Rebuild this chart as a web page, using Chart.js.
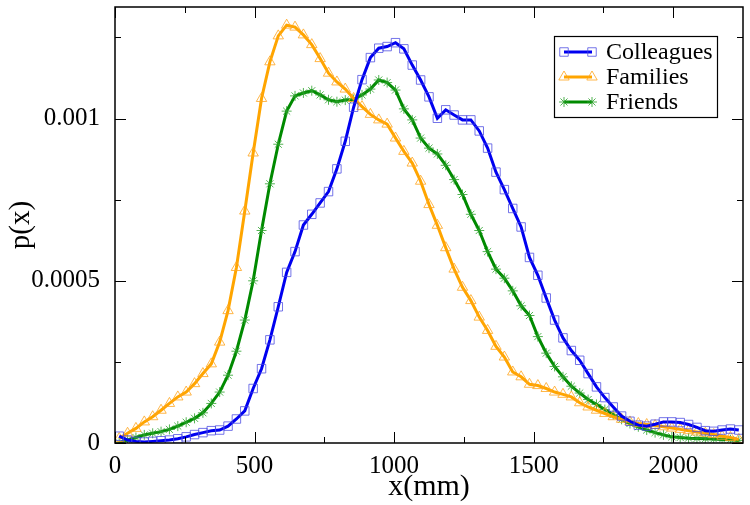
<!DOCTYPE html>
<html>
<head>
<meta charset="utf-8">
<script src="https://cdn.jsdelivr.net/npm/chart.js@4.4.1/dist/chart.umd.min.js"></script>
<style>
  html, body { margin: 0; padding: 0; background: #fff; }
</style>
</head>
<body>
<canvas id="chart" width="750" height="505"></canvas>
<script>
// bin centres (mm)
const xValues = [
  15, 45, 75, 105, 135, 165, 195, 225, 255, 285,
  315, 345, 375, 405, 435, 465, 495, 525, 555, 585,
  615, 645, 675, 705, 735, 765, 795, 825, 855, 885,
  915, 945, 975, 1005, 1035, 1065, 1095, 1125, 1155, 1185,
  1215, 1245, 1275, 1305, 1335, 1365, 1395, 1425, 1455, 1485,
  1515, 1545, 1575, 1605, 1635, 1665, 1695, 1725, 1755, 1785,
  1815, 1845, 1875, 1905, 1935, 1965, 1995, 2025, 2055, 2085,
  2115, 2145, 2175, 2205, 2235
]

const colleagues = [
  0.000021, 0.000009, 0.000005, 0.000003, 0.000005, 0.000007, 0.000009, 0.000013, 0.000019, 0.000026,
  0.000032, 0.000038, 0.000040, 0.000052, 0.000074, 0.000099, 0.000168, 0.000229, 0.000318, 0.000420,
  0.000526, 0.000590, 0.000672, 0.000705, 0.000740, 0.000775, 0.000845, 0.000930, 0.001035, 0.001120,
  0.001188, 0.001217, 0.001222, 0.001234, 0.001215, 0.001165, 0.001119, 0.001067, 0.001001, 0.001027,
  0.001011, 0.000996, 0.000996, 0.000962, 0.000909, 0.000835, 0.000781, 0.000723, 0.000666, 0.000572,
  0.000517, 0.000447, 0.000379, 0.000324, 0.000285, 0.000255, 0.000214, 0.000173, 0.000140, 0.000111,
  0.000083, 0.000067, 0.000055, 0.000052, 0.000058, 0.000065, 0.000065, 0.000063, 0.000057, 0.000048,
  0.000038, 0.000036, 0.000040, 0.000043, 0.000040
]

const families = [
  0.000014, 0.000030, 0.000045, 0.000065, 0.000081, 0.000101, 0.000122, 0.000142, 0.000157, 0.000183,
  0.000214, 0.000244, 0.000311, 0.000408, 0.000541, 0.000715, 0.000894, 0.001062, 0.001175, 0.001255,
  0.001288, 0.001282, 0.001258, 0.001228, 0.001185, 0.001140, 0.001113, 0.001091, 0.001062, 0.001037,
  0.001013, 0.000996, 0.000983, 0.000940, 0.000899, 0.000863, 0.000807, 0.000735, 0.000671, 0.000602,
  0.000536, 0.000480, 0.000439, 0.000388, 0.000347, 0.000298, 0.000265, 0.000219, 0.000204, 0.000181,
  0.000177, 0.000168, 0.000157, 0.000150, 0.000142, 0.000124, 0.000111, 0.000101, 0.000091, 0.000081,
  0.000073, 0.000065, 0.000060, 0.000057, 0.000054, 0.000050, 0.000046, 0.000042, 0.000038, 0.000034,
  0.000030, 0.000026, 0.000021, 0.000017, 0.000011
]

const friends = [
  0.000001, 0.000009, 0.000017, 0.000025, 0.000030, 0.000035, 0.000042, 0.000052, 0.000064, 0.000076,
  0.000093, 0.000122, 0.000157, 0.000209, 0.000283, 0.000379, 0.000500, 0.000655, 0.000799, 0.000921,
  0.001023, 0.001070, 0.001079, 0.001086, 0.001073, 0.001058, 0.001052, 0.001057, 0.001059, 0.001073,
  0.001091, 0.001119, 0.001111, 0.001088, 0.001030, 0.000996, 0.000940, 0.000909, 0.000891, 0.000856,
  0.000812, 0.000766, 0.000705, 0.000655, 0.000590, 0.000536, 0.000508, 0.000469, 0.000423, 0.000393,
  0.000328, 0.000277, 0.000236, 0.000204, 0.000175, 0.000154, 0.000134, 0.000119, 0.000103, 0.000088,
  0.000073, 0.000060, 0.000050, 0.000040, 0.000032, 0.000025, 0.000019, 0.000017, 0.000015, 0.000014,
  0.000013, 0.000012, 0.000011, 0.000010, 0.000008
]

const seriesNames = ["Colleagues", "Families", "Friends"]

const xMajorTicks = [0, 500, 1000, 1500, 2000]
const xMinorTicks = [250, 750, 1250, 1750]
const yMajorTicks = [0, 0.0005, 0.001]
const yMinorTicks = [0.00025, 0.00075, 0.00125]
const yTickLabels = ["0", "0.0005", "0.001"]

const serif = "'Liberation Serif', 'DejaVu Serif', serif"

function toPoints(ys) {
  return xValues.map((x, i) => ({x: x, y: ys[i]}))
}

// xmgrace style: ticks pointing inward on all four sides
const innerTicks = {
  id: "innerTicks",
  afterDatasetsDraw(chart) {
    const {ctx, chartArea: a} = chart
    const sx = chart.scales.x, sy = chart.scales.y
    ctx.save()
    ctx.strokeStyle = "#000"
    ctx.lineWidth = 1
    ctx.beginPath()
    const vTick = (v, len) => {
      const px = Math.round(sx.getPixelForValue(v)) + 0.5
      ctx.moveTo(px, a.bottom); ctx.lineTo(px, a.bottom - len)
      ctx.moveTo(px, a.top); ctx.lineTo(px, a.top + len)
    }
    const hTick = (v, len) => {
      const py = Math.round(sy.getPixelForValue(v)) + 0.5
      ctx.moveTo(a.left, py); ctx.lineTo(a.left + len, py)
      ctx.moveTo(a.right, py); ctx.lineTo(a.right - len, py)
    }
    xMajorTicks.forEach(v => vTick(v, 11))
    xMinorTicks.forEach(v => vTick(v, 6))
    yMajorTicks.forEach(v => hTick(v, 11))
    yMinorTicks.forEach(v => hTick(v, 6))
    ctx.stroke()
    ctx.lineWidth = 1.5
    ctx.strokeRect(a.left, a.top, a.right - a.left, a.bottom - a.top)
    ctx.restore()
  }
}

// boxed legend with marker-line-marker samples
const boxLegend = {
  id: "boxLegend",
  afterDraw(chart) {
    const ctx = chart.ctx
    const a = chart.chartArea
    const bx = a.right - 189, by = a.top + 29, bw = 163, bh = 81
    ctx.save()
    ctx.fillStyle = "#fff"
    ctx.fillRect(bx, by, bw, bh)
    ctx.strokeStyle = "#000"
    ctx.lineWidth = 1.2
    ctx.strokeRect(bx + 0.5, by + 0.5, bw, bh)
    chart.data.datasets.forEach((ds, i) => {
      const cy = by + 16 + i * 25
      const x1 = bx + 10, x2 = bx + 38
      ctx.strokeStyle = ds.borderColor
      ctx.lineWidth = 3
      ctx.beginPath()
      ctx.moveTo(x1, cy); ctx.lineTo(x2, cy)
      ctx.stroke()
      const opts = {pointStyle: ds.pointStyle, radius: ds.pointRadius, rotation: 0, borderWidth: 1}
      ctx.strokeStyle = ds.pointBorderColor
      ctx.fillStyle = "rgba(0,0,0,0)"
      ctx.lineWidth = 1
      Chart.helpers.drawPoint(ctx, opts, x1, cy)
      Chart.helpers.drawPoint(ctx, opts, x2, cy)
      ctx.fillStyle = "#000"
      ctx.font = "24px " + serif
      ctx.textBaseline = "middle"
      ctx.textAlign = "left"
      ctx.fillText(ds.label, bx + 52, cy + 1)
    })
    ctx.restore()
  }
}

const chart = new Chart("chart", {
  type: "line",
  data: {
    datasets: [
      {
        label: seriesNames[0],
        data: toPoints(colleagues),
        borderColor: "#0000f0",
        borderWidth: 3,
        pointStyle: "rect",
        pointRadius: 6,
        pointBorderWidth: 1,
        pointBorderColor: "rgba(70,70,225,0.75)",
        pointBackgroundColor: "rgba(0,0,0,0)",
      },
      {
        label: seriesNames[1],
        data: toPoints(families),
        borderColor: "#ffa500",
        borderWidth: 3,
        pointStyle: "triangle",
        pointRadius: 6,
        pointBorderWidth: 1,
        pointBorderColor: "rgba(255,165,30,0.8)",
        pointBackgroundColor: "rgba(0,0,0,0)",
      },
      {
        label: seriesNames[2],
        data: toPoints(friends),
        borderColor: "#008a00",
        borderWidth: 3,
        pointStyle: "star",
        pointRadius: 5,
        pointBorderWidth: 1,
        pointBorderColor: "rgba(40,160,40,0.8)",
        pointBackgroundColor: "rgba(0,0,0,0)",
      },
    ]
  },
  options: {
    responsive: false,
    animation: false,
    devicePixelRatio: 1,
    layout: {padding: {top: 5, right: 5, left: 0, bottom: 0}},
    plugins: {
      legend: {display: false},
      tooltip: {enabled: false},
    },
    elements: {
      line: {tension: 0},
    },
    scales: {
      x: {
        type: "linear",
        min: 0,
        max: 2250,
        grid: {display: false},
        border: {display: false},
        afterBuildTicks: s => { s.ticks = xMajorTicks.map(v => ({value: v})) },
        afterFit: s => { s.height = 62; s.paddingLeft = 0; s.paddingRight = 0 },
        ticks: {
          color: "#000",
          font: {family: serif, size: 25},
          padding: 0,
          maxRotation: 0,
          autoSkip: false,
          callback: v => String(v),
        },
        title: {
          display: true,
          text: "x(mm)",
          color: "#000",
          font: {family: serif, size: 30},
          padding: {top: 0, bottom: 0},
        },
      },
      y: {
        type: "linear",
        min: 0,
        max: 0.001344,
        grid: {display: false},
        border: {display: false},
        afterBuildTicks: s => { s.ticks = yMajorTicks.map(v => ({value: v})) },
        afterFit: s => { s.width = 115; s.paddingTop = 0; s.paddingBottom = 0 },
        ticks: {
          color: "#000",
          font: {family: serif, size: 25},
          padding: 7,
          autoSkip: false,
          callback: v => yTickLabels[yMajorTicks.indexOf(v)],
        },
        title: {
          display: true,
          text: "p(x)",
          color: "#000",
          font: {family: serif, size: 29},
          padding: {top: 4, bottom: 0},
        },
      },
    },
  },
  plugins: [innerTicks, boxLegend],
})
</script>
</body>
</html>
